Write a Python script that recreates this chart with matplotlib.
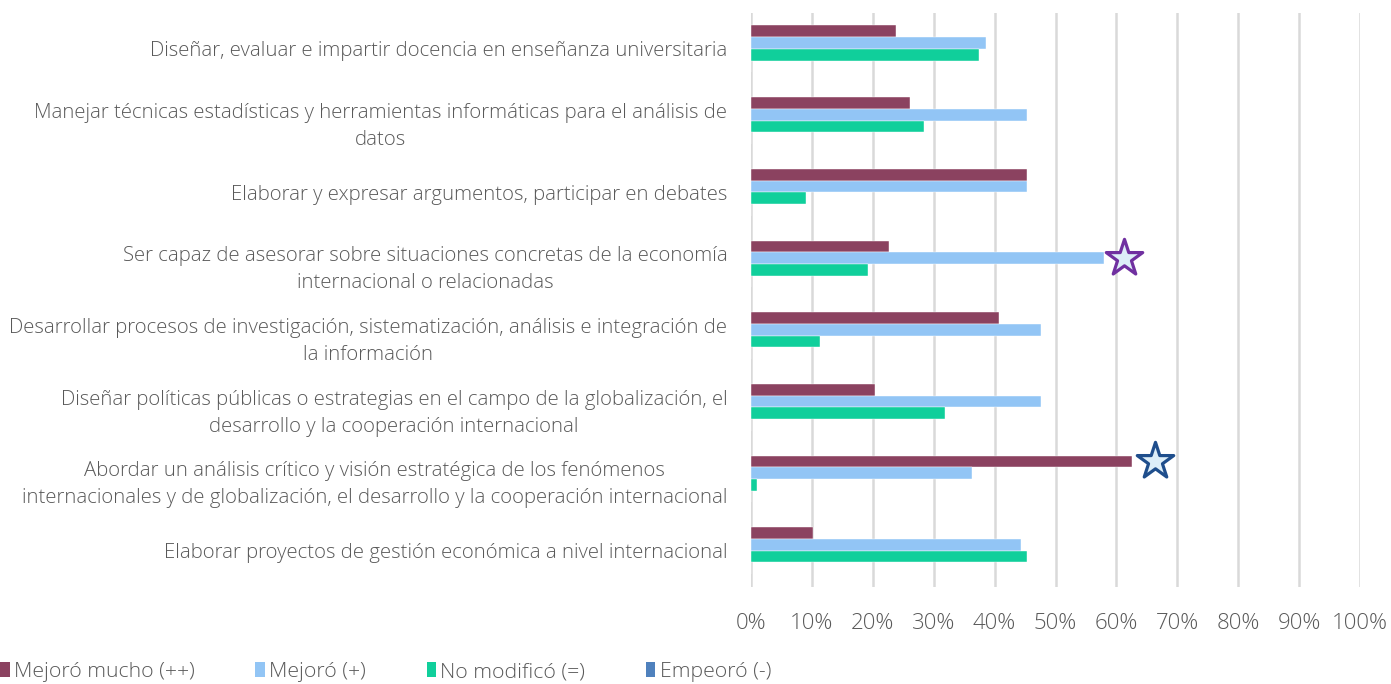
import matplotlib
matplotlib.use("Agg")
import matplotlib.pyplot as plt
from matplotlib.patches import Patch
import numpy as np

plt.rcParams['font.family'] = ['Open Sans', 'DejaVu Sans']

categories = [
    "Diseñar, evaluar e impartir docencia en enseñanza universitaria",
    "Manejar técnicas estadísticas y herramientas informáticas para el análisis de\ndatos",
    "Elaborar y expresar argumentos, participar en debates",
    "Ser capaz de asesorar sobre situaciones concretas de la economía\ninternacional o relacionadas",
    "Desarrollar procesos de investigación, sistematización, análisis e integración de\nla información",
    "Diseñar políticas públicas o estrategias en el campo de la globalización, el\ndesarrollo y la cooperación internacional",
    "Abordar un análisis crítico y visión estratégica de los fenómenos\ninternacionales y de globalización, el desarrollo y la cooperación internacional",
    "Elaborar proyectos de gestión económica a nivel internacional",
]
series_names = ["Mejoró mucho (++)", "Mejoró (+)", "No modificó (=)", "Empeoró (-)"]
mejoro_mucho = [23.8, 26.1, 45.4, 22.7, 40.8, 20.4, 62.5, 10.1]
mejoro = [38.6, 45.4, 45.4, 58.0, 47.7, 47.7, 36.3, 44.3]
no_modifico = [37.4, 28.4, 9.0, 19.2, 11.3, 31.8, 1.0, 45.4]
empeoro = [0, 0, 0, 0, 0, 0, 0, 0]
colors = ["#8B4260", "#92C5F5", "#10CF9B", "#4F81BD"]
x_ticks = list(range(0, 101, 10))
tick_labels = [f"{t}%" for t in x_ticks]

# highlighted stars: (category index, series index, x position in %)
stars = [(3, 1, 61.2, "#7030A0"), (6, 0, 66.3, "#1F4E8C")]

fig = plt.figure(figsize=(13.91, 6.84), dpi=100)
ax = fig.add_axes([751/1391, 1-586.5/684, (1360-751)/1391, (586.5-13)/684])

n = len(categories)
all_series = [mejoro_mucho, mejoro, no_modifico, empeoro]
bar_h = 11.7/71.7
centers = np.arange(n)
for i, (vals, c, name) in enumerate(zip(all_series, colors, series_names)):
    offs = (i - 1.5) * bar_h
    ax.barh(centers + offs, vals, height=bar_h, color=c, label=name, zorder=3,
            edgecolor='white', linewidth=0.3)

for cat, s, xv, col in stars:
    yv = cat + (s - 1.5) * bar_h
    ax.scatter([xv], [yv], marker='*', s=760, facecolor='#DDEEF8', edgecolor=col,
               linewidth=2.3, zorder=5, clip_on=False)

ax.set_xlim(0, 100)
ax.set_ylim(n - 0.5, -0.5)
ax.set_xticks(x_ticks)
ax.set_xticklabels(tick_labels, fontsize=16, color='#595959', fontweight='light')
ax.set_yticks(centers)
ax.set_yticklabels(categories, fontsize=14.65, color='#595959', multialignment='center',
                   linespacing=1.45, fontweight='light')
ax.tick_params(axis='both', length=0)
ax.tick_params(axis='x', pad=19)
ax.tick_params(axis='y', pad=17)
ax.grid(axis='x', color='#D9D9D9', linewidth=1.8, zorder=0)
for sp in ax.spines.values():
    sp.set_visible(False)

handles = [Patch(facecolor=c, label=nm) for c, nm in zip(colors, series_names)]
leg = fig.legend(handles=handles, loc='center left', bbox_to_anchor=(-0.0135, 1-672/684),
                 ncol=4, frameon=False, handlelength=0.45, handleheight=0.75,
                 handletextpad=0.2, columnspacing=2.85, labelcolor='#595959',
                 prop={'weight': 'light', 'size': 15.3})

fig.savefig("out.png", dpi=100)
